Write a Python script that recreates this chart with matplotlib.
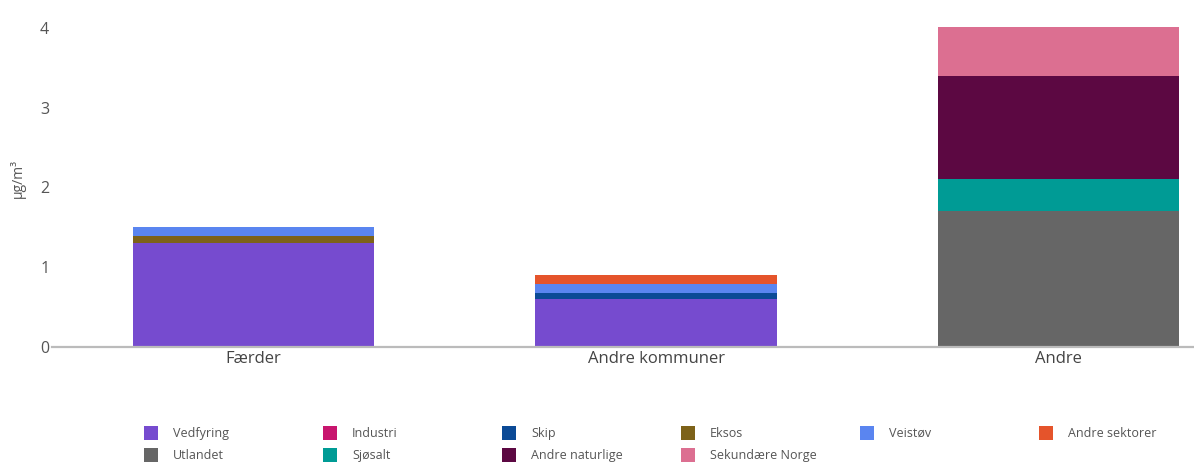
import matplotlib.pyplot as plt
from matplotlib.patches import Rectangle
import numpy as np

plt.rcParams['font.family'] = ['Open Sans', 'DejaVu Sans']

# ==========================================
# DATA
# ==========================================

categories = ["Færder", "Andre kommuner", "Andre"]

sources = ["Vedfyring", "Industri", "Skip", "Eksos", "Veistøv", "Andre sektorer",
           "Utlandet", "Sjøsalt", "Andre naturlige", "Sekundære Norge"]

vedfyring = [1.30, 0.60, 0.0]
industri = [0.0, 0.0, 0.0]
skip = [0.0, 0.08, 0.0]
eksos = [0.09, 0.0, 0.0]
veistov = [0.11, 0.11, 0.0]
andre_sektorer = [0.0, 0.11, 0.0]
utlandet = [0.0, 0.0, 1.70]
sjosalt = [0.0, 0.0, 0.41]
andre_naturlige = [0.0, 0.0, 1.29]
sekundaere = [0.0, 0.0, 0.61]

series = [vedfyring, industri, skip, eksos, veistov, andre_sektorer,
          utlandet, sjosalt, andre_naturlige, sekundaere]

colors = ["#764bcf", "#c8156e", "#0b4a96", "#7d6219", "#5a85f0", "#e5542b",
          "#666666", "#009b95", "#5c0842", "#dc6f91"]

# ==========================================
# PLOT
# ==========================================

W, H = 1194, 465
fig = plt.figure(figsize=(W / 100, H / 100), dpi=100)

# axes runs past the right edge like the cropped original
ax_left, ax_right = 52, 1260
ax_bottom, ax_top = 347, 16
ax = fig.add_axes([ax_left / W, 1 - ax_bottom / H,
                   (ax_right - ax_left) / W, (ax_bottom - ax_top) / H])

x = np.arange(len(categories))
bottom = np.zeros(len(categories))
for vals, col in zip(series, colors):
    ax.bar(x, vals, width=0.6, bottom=bottom, color=col, linewidth=0)
    bottom += np.array(vals)

ax.set_xlim(-0.5, 2.5)
ax.set_ylim(0, 4.15)
ax.set_yticks([0, 1, 2, 3, 4])
ax.set_xticks(x)
ax.set_xticklabels(categories)

for s in ["top", "right", "left"]:
    ax.spines[s].set_visible(False)
ax.spines["bottom"].set_color("#bbbbbb")
ax.spines["bottom"].set_linewidth(1.6)

ax.tick_params(axis="y", length=0, pad=2, labelsize=11.5, labelcolor="#555555")
ax.tick_params(axis="x", length=0, pad=3, labelsize=12, labelcolor="#444444")

fig.text(18 / W, 1 - 178 / H, "µg/m³", rotation=90, ha="center", va="center",
         fontsize=10, color="#555555")

# ==========================================
# LEGEND (two rows, six columns)
# ==========================================

leg_x0, leg_dx = 144, 179
leg_rows = [433, 455]
for i, (name, col) in enumerate(zip(sources, colors)):
    r, c = divmod(i, 6)
    px = leg_x0 + c * leg_dx
    py = leg_rows[r]
    fig.add_artist(Rectangle((px / W, 1 - (py + 7) / H), 14 / W, 14 / H,
                             transform=fig.transFigure, color=col, linewidth=0))
    fig.text((px + 29) / W, 1 - py / H, name, ha="left", va="center",
             fontsize=9, color="#555555")

fig.savefig("out.png", dpi=100)
